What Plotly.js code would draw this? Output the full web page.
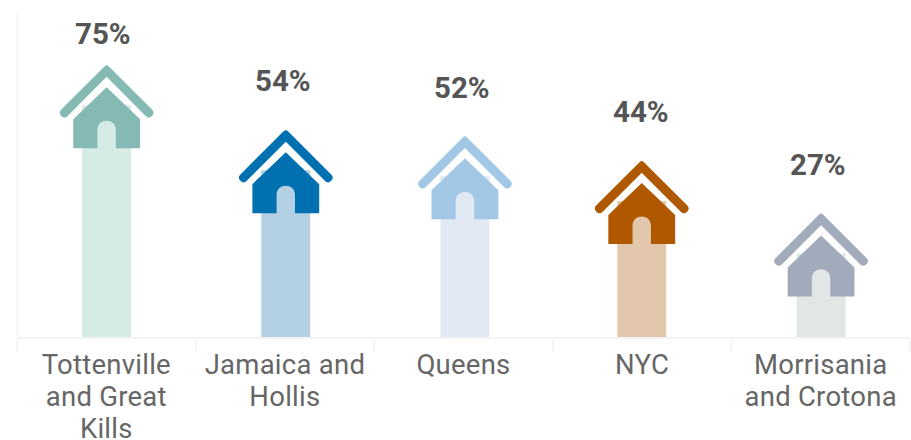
<!DOCTYPE html>
<html>
<head>
<meta charset="utf-8">
<script src="https://cdn.plot.ly/plotly-3.0.1.min.js"></script>
<style>html,body{margin:0;padding:0;background:#fff}.xtick text{letter-spacing:.25px}</style>
</head>
<body>
<div id="chart" style="width:911px;height:440px"></div>
<script>
const categories = ['Tottenville<br>and Great<br>Kills', 'Jamaica and<br>Hollis', 'Queens', 'NYC', 'Morrisania<br>and Crotona'];
const values = [75, 54, 52, 44, 27];
const valueLabels = ['75%', '54%', '52%', '44%', '27%'];
const barColors = ['#D6EAE6', '#B3D1E2', '#E0E9F4', '#E3C7AC', '#E1E6E7'];
const houseColors = ['#85B9B3', '#0070B0', '#A2C8E6', '#AF5800', '#A2ABBC'];
const labelShifts = [71, 89, 88, 89, 89];
const labelNudges = [-3.3, -2.4, -1.5, -1.1, -2.7];
const barNudge = [0.002, 0.005, 0.008, -0.002, 0.002];

const barWidth = 0.274;

// House icon outline, in pixels relative to the top centre of a bar (y up)
const roofPath = 'M -45.38 -4.32 L -2.2 38.86 Q 0 41.06 2.2 38.86 L 45.38 -4.32 Q 48.56 -7.5 45.38 -10.68 Q 42.2 -13.86 39.02 -10.68 L 0 28.4 L -39.02 -10.68 Q -42.2 -13.86 -45.38 -10.68 Q -48.56 -7.5 -45.38 -4.32 Z';
const bodyPath = 'M 0 18 L 33.4 -14 L 33.4 -43 L 9.2 -43 L 9.2 -24.8 C 9.2 -12.5 -9.2 -12.5 -9.2 -24.8 L -9.2 -43 L -33.4 -43 L -33.4 -14 Z';

const shapes = [];
// faint left axis line
shapes.push({
  type: 'line', layer: 'below', xref: 'paper', yref: 'paper',
  x0: 0, x1: 0, y0: 0, y1: 0.964,
  line: {color: '#F8F8F8', width: 2}
});
categories.forEach((c, i) => {
  [roofPath, bodyPath].forEach(p => shapes.push({
    type: 'path', layer: 'above',
    xref: 'x', yref: 'y',
    xsizemode: 'pixel', ysizemode: 'pixel',
    xanchor: i + barNudge[i], yanchor: values[i],
    path: p,
    fillcolor: houseColors[i],
    line: {width: 0}
  }));
});
// small white gap between the axis line and its tick marks
shapes.push({
  type: 'rect', layer: 'above', xref: 'paper', yref: 'paper',
  ysizemode: 'pixel', yanchor: 0, x0: -0.02, x1: 1.02, y0: -2, y1: -4,
  fillcolor: '#fff', line: {width: 0}
});

const annotations = categories.map((c, i) => ({
  x: c, y: values[i], yshift: labelShifts[i], xshift: labelNudges[i],
  text: valueLabels[i], showarrow: false,
  yanchor: 'middle', xanchor: 'center',
  font: {family: 'Roboto', size: 29.5, color: '#555555', weight: 700}
}));

Plotly.newPlot('chart', [{
  type: 'bar', x: categories, y: values,
  width: barWidth,
  offset: barNudge.map(n => n - barWidth / 2),
  marker: {color: barColors, line: {width: 0}},
  hoverinfo: 'skip'
}], {
  width: 911, height: 440,
  margin: {l: 17, r: 1, t: 0, b: 103},
  paper_bgcolor: '#fff', plot_bgcolor: '#fff',
  showlegend: false,
  xaxis: {
    type: 'category', tickangle: 0, tickson: 'boundaries', ticks: 'outside',
    ticklen: 12, tickwidth: 2, tickcolor: '#F3F3F3',
    showline: true, linecolor: '#F3F3F3', linewidth: 2,
    showgrid: false, zeroline: false, automargin: false,
    ticklabelstandoff: 2,
    tickfont: {family: 'Roboto', size: 27.5, color: '#666666'}
  },
  yaxis: {
    range: [0, 109.06], visible: false, showgrid: false, zeroline: false, fixedrange: true
  },
  shapes, annotations
}, {displayModeBar: false, staticPlot: true}).then(() => {
  // the tick labels have a tighter line pitch than the library's default
  document.querySelectorAll('.xtick text').forEach(text => {
    text.querySelectorAll('tspan.line').forEach((t, n) => {
      t.setAttribute('dy', (n * 32) + 'px');
    });
  });
});
</script>
</body>
</html>
